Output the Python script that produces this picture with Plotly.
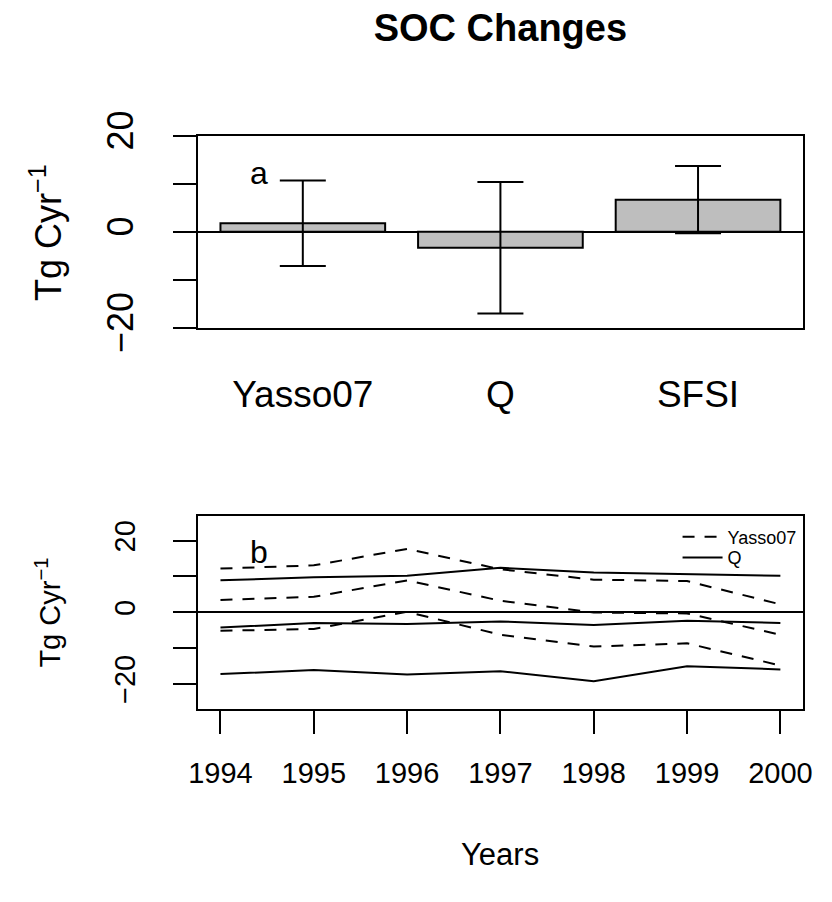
import plotly.graph_objects as go

# ---------------- data ----------------
models = ["Yasso07", "Q", "SFSI"]
soc_mean = [1.8, -3.3, 6.7]
soc_err = [8.9, 13.7, 7.0]

years = [1994, 1995, 1996, 1997, 1998, 1999, 2000]
yasso_upper = [12.2, 13.1, 17.7, 12.0, 9.1, 8.7, 2.2]
yasso_mean = [3.4, 4.3, 8.9, 3.2, -0.1, -0.35, -6.3]
yasso_lower = [-5.2, -4.7, 0.1, -6.3, -9.6, -8.7, -14.9]
q_upper = [8.9, 9.8, 10.2, 12.4, 11.1, 10.7, 10.2]
q_mean = [-4.3, -3.0, -3.3, -2.6, -3.6, -2.4, -3.0]
q_lower = [-17.3, -16.2, -17.4, -16.5, -19.3, -15.1, -16.0]

ylabel_ticks = [-20, 0, 20]
ylabel_text = ["\u221220", "0", "20"]
yminor_ticks = [-10, 10]

# ---------------- figure ----------------
W, H = 832, 902
FONT = "Liberation Sans, Arial, Helvetica, sans-serif"

fig = go.Figure()

fig.add_trace(go.Bar(
    x=models, y=soc_mean,
    marker=dict(color="#BEBEBE", line=dict(color="black", width=2)),
    error_y=dict(type="data", array=soc_err, color="black", thickness=2, width=23),
    showlegend=False, xaxis="x", yaxis="y",
))

dash = "12px,10px"
for i, ys in enumerate([yasso_upper, yasso_mean, yasso_lower]):
    fig.add_trace(go.Scatter(
        x=years, y=ys, mode="lines", name="Yasso07", legendgroup="y",
        showlegend=(i == 0), legend="legend",
        line=dict(color="black", width=2, dash=dash),
        xaxis="x2", yaxis="y2",
    ))
for i, ys in enumerate([q_upper, q_mean, q_lower]):
    fig.add_trace(go.Scatter(
        x=years, y=ys, mode="lines", name="Q", legendgroup="q",
        showlegend=(i == 0), legend="legend2",
        line=dict(color="black", width=2),
        xaxis="x2", yaxis="y2",
    ))

x0, x1 = 192.7 / W, 812.3 / W
top_dom = [1 - 320.7 / H, 1 - 117.3 / H]
bot_dom = [1 - 724 / H, 1 - 519.3 / H]

axis_common = dict(showline=True, mirror=True, linecolor="black", linewidth=2,
                   showgrid=False, tickcolor="black")

def yaxis_style(size):
    return dict(tickvals=ylabel_ticks, ticktext=ylabel_text,
                ticks="outside", ticklen=23, tickwidth=2, tickangle=-90,
                tickfont=dict(size=size), ticklabelstandoff=26,
                minor=dict(tickvals=yminor_ticks, ticks="outside", ticklen=23,
                           tickwidth=2, tickcolor="black", showgrid=False),
                zeroline=True, zerolinecolor="black", **axis_common)

def ann(text, x, y, size, angle=0):
    return dict(text=text, x=x / W, y=1 - y / H, xref="paper", yref="paper",
                xanchor="center", yanchor="middle", textangle=angle,
                showarrow=False, font=dict(size=size))

legend_common = dict(xanchor="left", yanchor="middle", bgcolor="rgba(0,0,0,0)",
                     font=dict(size=18), itemwidth=40, borderwidth=0)

fig.update_layout(
    width=W, height=H,
    margin=dict(l=0, r=0, t=0, b=0),
    paper_bgcolor="white", plot_bgcolor="white",
    font=dict(family=FONT, color="black"),
    bargap=0.2 / 1.2,
    title=dict(text="<b>SOC Changes</b>", font=dict(size=38, family=FONT),
               x=(x0 + x1) / 2, xanchor="center", xref="paper",
               y=1 - 28 / H, yanchor="middle"),
    xaxis=dict(domain=[x0, x1], range=[-0.53, 2.53], ticks="",
               tickfont=dict(size=37), ticklabelstandoff=33,
               anchor="y", zeroline=False, **axis_common),
    yaxis=dict(domain=top_dom, range=[-20, 20], anchor="x", zerolinewidth=1.5,
               **yaxis_style(36)),
    xaxis2=dict(domain=[x0, x1], range=[1993.76, 2000.24], tickvals=years,
                ticks="outside", ticklen=23, tickwidth=2,
                tickfont=dict(size=29), ticklabelstandoff=14,
                anchor="y2", zeroline=False, **axis_common),
    yaxis2=dict(domain=bot_dom, range=[-27.04, 27.04], anchor="x2", zerolinewidth=2,
                **yaxis_style(29)),
    legend=dict(x=684 / W, y=1 - 542 / H, **legend_common),
    legend2=dict(x=684 / W, y=1 - 564 / H, **legend_common),
    annotations=[
        dict(text="a", x=-0.22, y=12.3, xref="x", yref="y", showarrow=False,
             font=dict(size=32)),
        dict(text="b", x=1994.41, y=16.9, xref="x2", yref="y2", showarrow=False,
             font=dict(size=32)),
        ann("Tg Cyr<sup>\u22121</sup>", 37, 220, 36, -90),
        ann("Tg Cyr<sup>\u22121</sup>", 38, 622, 29, -90),
        ann("Years", (192.7 + 812.3) / 2, 878, 31),
    ],
)

fig.write_html("out.html")
